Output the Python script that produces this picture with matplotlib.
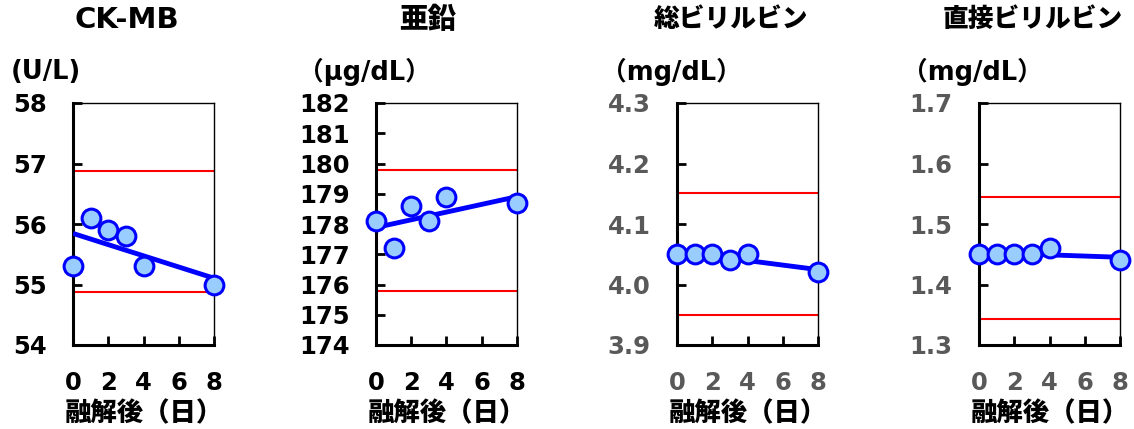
import numpy as np
import matplotlib
matplotlib.use("Agg")
import matplotlib.pyplot as plt

# DejaVu for latin/digits (close to the Verdana-like look), Noto CJK for Japanese
plt.rcParams['font.family'] = ['DejaVu Sans', 'Noto Sans CJK JP']
plt.rcParams['font.weight'] = 'bold'

# data
days = [0, 1, 2, 3, 4, 8]
titles = ['CK-MB', '亜鉛', '総ビリルビン', '直接ビリルビン']
units = ['(U/L)', '（μg/dL）', '（mg/dL）', '（mg/dL）']
ckmb = [55.3, 56.1, 55.9, 55.8, 55.3, 55.0]
zinc = [178.1, 177.2, 178.6, 178.1, 178.9, 178.7]
tbil = [4.05, 4.05, 4.05, 4.04, 4.05, 4.02]
dbil = [1.45, 1.45, 1.45, 1.45, 1.46, 1.44]
limits = [(54.88, 56.87), (175.8, 179.8), (3.95, 4.151), (1.343, 1.544)]
yranges = [(54, 58, 1), (174, 182, 1), (3.9, 4.3, 0.1), (1.3, 1.7, 0.1)]
yfmt = ['{:.0f}', '{:.0f}', '{:.1f}', '{:.1f}']
tick_colors = ['black', 'black', '#595959', '#595959']
series = [ckmb, zinc, tbil, dbil]

W, H = 1134, 429
fig = plt.figure(figsize=(W / 100, H / 100), dpi=100)

lefts = [73, 376, 677, 979]
title_x = [127, 428, 731, 1033]
title_size = [21, 20.5, 18.5, 18.5]
unit_x = [46, 364, 671, 972]

for i in range(4):
    ax = fig.add_axes([lefts[i] / W, 1 - 345 / H, 141 / W, 242 / H])
    y = series[i]
    lo, hi = limits[i]
    ax.axhline(lo, color='red', lw=1.5, zorder=1)
    ax.axhline(hi, color='red', lw=1.5, zorder=1)

    # trend line (least squares)
    k, b = np.polyfit(days, y, 1)
    xs = np.array([days[0], days[-1]])
    ax.plot(xs, k * xs + b, color='#0000ff', lw=3.5, zorder=3, solid_capstyle='butt')
    ax.plot(days, y, 'o', ms=13.5, mfc='#99ccff', mec='#0000ff', mew=2.2,
            zorder=4, clip_on=False)

    y0, y1, step = yranges[i]
    ax.set_ylim(y0, y1)
    yt = np.arange(y0, y1 + step / 2, step)
    ax.set_yticks(yt)
    ax.set_yticklabels([yfmt[i].format(v) for v in yt])
    ax.set_xlim(0, 8)
    ax.set_xticks([0, 2, 4, 6, 8])

    for s in ['left', 'bottom']:
        ax.spines[s].set_linewidth(2.2)
    for s in ['top', 'right']:
        ax.spines[s].set_linewidth(1.0)
    ax.tick_params(axis='both', direction='in', length=6.5, width=2,
                   labelsize=17.5, labelcolor=tick_colors[i])
    ax.tick_params(axis='y', pad=19)
    ax.tick_params(axis='x', pad=19)
    ax.set_xlabel('融解後（日）', fontsize=19, fontweight='heavy', labelpad=4)

    fig.text(title_x[i] / W, 1 - 20 / H, titles[i], fontsize=title_size[i],
             fontweight='heavy', ha='center', va='center')
    fig.text(unit_x[i] / W, 1 - 72 / H, units[i], fontsize=18.5, fontweight='bold',
             ha='center', va='center')

fig.savefig('out.png', dpi=100)
